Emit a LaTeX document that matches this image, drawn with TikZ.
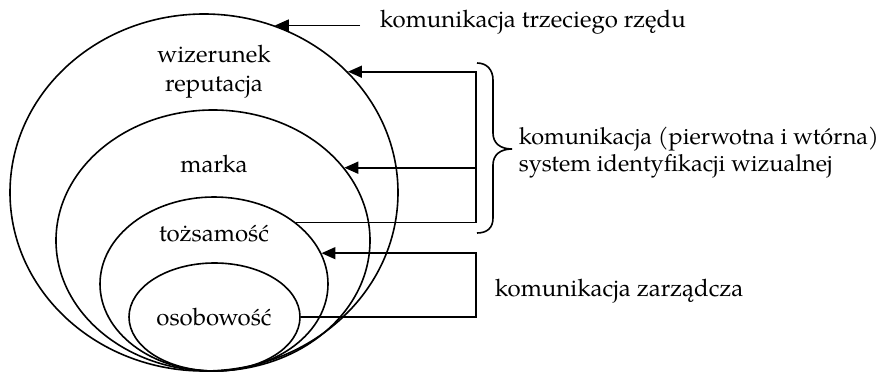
\documentclass[tikz,border=0pt]{standalone}
\usepackage{fontspec}
\setmainfont{TeX Gyre Pagella}
\usetikzlibrary{arrows.meta,shapes.geometric}

\begin{document}
\begin{tikzpicture}[x=1pt,y=-1pt, line width=1.6pt,
  ring/.style={draw, ellipse, inner sep=0pt},
  lbl/.style={inner sep=0pt, font=\fontsize{24}{28}\selectfont},
  arr/.style={-{Triangle[length=14pt,width=12pt]}},
]
\useasboundingbox (0,0) rectangle (884,374);

% nested ellipses, all resting on the same bottom line
\node[ring, minimum width=388pt, minimum height=357pt] (outer) at (204,192.5) {};
\node[ring, minimum width=314pt, minimum height=261pt] (marka) at (213,240.5) {};
\node[ring, minimum width=228pt, minimum height=174pt] (toz)   at (214,284) {};
\node[ring, minimum width=171pt, minimum height=108pt] (oso)   at (214.5,317) {};

% labels inside the ellipses
\node[lbl, anchor=base] (wiz)  at (214,62.5) {wizerunek};
\node[lbl, anchor=base] (rep)  at (214,92)   {reputacja};
\node[lbl, anchor=base] (mar)  at (214,173)  {marka};
\node[lbl, anchor=base] (tozl) at (214,242)  {tożsamość};
\node[lbl, anchor=base] (osol) at (214,326)  {osobowość};

% labels on the right
\node[lbl, anchor=base west] (k3)  at (379,28)  {komunikacja trzeciego rzędu};
\node[lbl, anchor=base west, font=\fontsize{23.5}{28}\selectfont] (kp1) at (518,145) {komunikacja (pierwotna i wtórna)};
\node[lbl, anchor=base west, font=\fontsize{23.5}{28}\selectfont] (kp2) at (518,172) {system identyfikacji wizualnej};
\node[lbl, anchor=base west] (kz)  at (494,297) {komunikacja zarządcza};

% helper coordinates
\coordinate (k3start) at (360,26);
\coordinate (bus) at (476,0);

% third-order communication
\draw[arr] (k3start |- outer.67) -- (outer.67);

% primary/secondary communication and visual identity
\draw[arr] (toz.37.8) -- (bus |- toz.37.8) -- (bus |- outer.40) -- (outer.40);
\draw[arr] (bus |- marka.29.5) -- (marka.29.5);

% curly brace
\draw (477,63) .. controls (487,63) and (493,70) .. (493,80) -- (493,133)
  .. controls (493,143) and (500,149) .. (512,149)
  .. controls (500,149) and (493,155) .. (493,165) -- (493,218)
  .. controls (493,228) and (487,233) .. (477,233);

% managerial communication
\draw[arr] (oso.east) -- (bus |- oso.east) -- (bus |- toz.16.2) -- (toz.16.2);
\end{tikzpicture}
\end{document}
